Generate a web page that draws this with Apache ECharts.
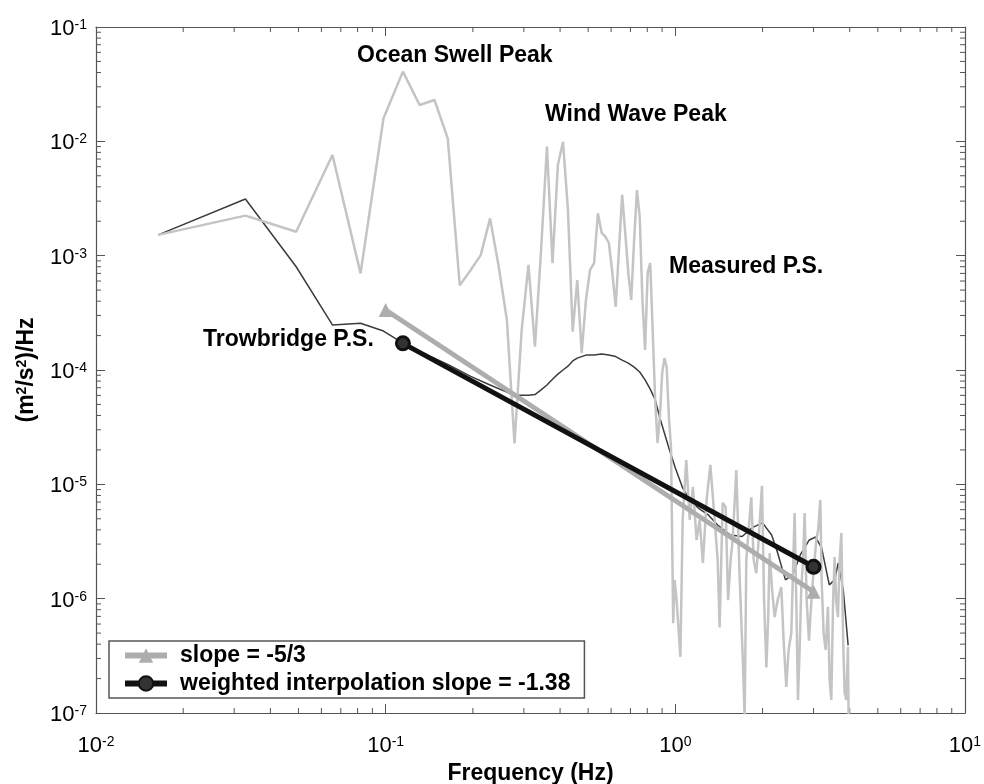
<!DOCTYPE html>
<html><head><meta charset="utf-8">
<script src="https://cdn.jsdelivr.net/npm/echarts@6/dist/echarts.min.js"></script>
<style>html,body{margin:0;padding:0;background:#fff}#c{width:984px;height:784px}</style>
</head><body><div id="c"></div>
<script>
// ---- data ----
const measFreq = [0.0164,0.0328,0.0491,0.0655,0.0819,0.0983,0.1147,0.1310,0.1474,0.1638,0.1802,0.1966,0.2129,0.2293,0.2457,0.2621,0.2785,0.2948,0.3112,0.3276,0.3440,0.3604,0.3767,0.3931,0.4095,0.4259,0.4423,0.4586,0.4750,0.4914,0.5078,0.5242,0.5405,0.5569,0.5733,0.5897,0.6060,0.6224,0.6388,0.6552,0.6716,0.6880,0.7043,0.7207,0.7371,0.7535,0.7698,0.7862,0.8026,0.8190,0.8353,0.8517,0.8681,0.8845,0.9008,0.9172,0.9336,0.9500,0.9663,
  0.983,0.994,1.010,1.041,1.060,1.091,1.121,1.150,1.184,1.213,1.245,1.282,1.321,1.367,1.400,1.422,1.457,1.492,1.521,1.552,1.577,1.624,1.667,1.712,1.735,1.758,1.791,1.829,1.864,1.904,1.939,1.991,2.025,2.062,2.091,2.116,2.159,2.202,2.255,2.322,2.365,2.416,2.461,2.514,2.581,2.623,2.650,2.686,2.722,2.761,2.795,2.840,2.893,2.931,2.985,3.026,3.067,3.111,3.166,3.199,3.250,3.303,3.364,3.409,3.455,3.505,3.548,3.590,3.642,3.692,3.742,3.796,3.841,3.893,3.943,3.965];
const measVal = [1.52e-3,2.24e-3,1.62e-3,7.6e-3,7.0e-4,1.59e-2,4.07e-2,2.08e-2,2.30e-2,1.06e-2,5.5e-4,7.5e-4,1.01e-3,2.12e-3,8.0e-4,2.74e-4,2.28e-5,2.24e-4,8.3e-4,1.6e-4,1.12e-3,9.0e-3,8.6e-4,6.2e-3,9.9e-3,2.5e-3,2.16e-4,6.1e-4,1.41e-4,4.1e-4,7.5e-4,8.6e-4,2.35e-3,1.58e-3,1.47e-3,1.29e-3,7.1e-4,3.57e-4,1.12e-3,3.4e-3,1.58e-3,7.1e-4,4.1e-4,1.37e-3,3.75e-3,2.19e-3,4.1e-4,1.5e-4,7.1e-4,8.6e-4,2.24e-4,5.5e-5,2.3e-5,3.9e-5,9.4e-5,1.27e-4,1.06e-4,3.9e-5,2.1e-5,
  6.1e-7,1.46e-6,9.7e-7,3.1e-7,4.9e-6,1.63e-5,4.9e-6,9.5e-6,3.26e-6,4.9e-6,2.05e-6,7.3e-6,1.48e-5,4.9e-6,2.18e-6,5.6e-7,6.9e-6,6.3e-6,9.7e-7,2.18e-6,3.26e-6,1.33e-5,1.55e-6,2.7e-7,9e-8,2.18e-6,4.0e-6,7.7e-6,2.18e-6,1.67e-6,3.26e-6,9.7e-6,9.7e-7,2.5e-7,6.5e-7,2.5e-6,1.19e-6,6.9e-7,9.7e-7,1.26e-6,4.3e-7,1.69e-7,3.56e-7,5.0e-7,5.6e-6,6.5e-7,1.3e-7,3.56e-7,1.26e-6,2.18e-6,5.6e-6,9.7e-7,4.3e-7,7.5e-7,1.46e-6,2.18e-6,3.26e-6,4.0e-6,7.3e-6,1.46e-6,5.0e-7,3.56e-7,8.5e-7,1.94e-7,1.3e-7,9.7e-7,2.31e-6,9.7e-7,6.9e-7,2.18e-6,3.75e-6,4.3e-7,1.5e-7,1.3e-7,3.8e-7,9e-8];

const trowFreq = [0.0164,0.0328,0.0491,0.0655,0.0819,0.0983,0.1147,0.1310,0.1638,0.1966,0.2293,0.2621,0.2785,0.2948,0.3112,0.3276,0.3440,0.3604,0.3767,0.3931,0.4095,0.4259,0.4423,0.4586,0.4914,0.5242,0.5569,0.5897,0.6224,0.6552,0.6880,0.7207,0.7535,0.7862,0.8190,0.8517,0.8845,0.9172,0.9500,1.0,1.06,1.12,1.2,1.3,1.4,1.55,1.7,1.85,2.0,2.15,2.25,2.4,2.55,2.7,2.9,3.05,3.2,3.4,3.55,3.65,3.8,3.95];
const trowVal = [1.52e-3,3.13e-3,8.0e-4,2.48e-4,2.56e-4,2.19e-4,1.72e-4,1.45e-4,1.12e-4,8.8e-5,7.4e-5,6.4e-5,6.0e-5,6.0e-5,6.0e-5,6.1e-5,6.7e-5,7.4e-5,8.3e-5,9.2e-5,1.0e-4,1.08e-4,1.2e-4,1.27e-4,1.35e-4,1.35e-4,1.38e-4,1.35e-4,1.31e-4,1.22e-4,1.15e-4,1.06e-4,9.6e-5,8.2e-5,6.8e-5,5.5e-5,3.8e-5,2.8e-5,2.08e-5,1.39e-5,9.3e-6,7.3e-6,6.2e-6,5.4e-6,4.4e-6,3.6e-6,3.5e-6,4.2e-6,4.6e-6,3.6e-6,2.56e-6,1.46e-6,1.64e-6,2.41e-6,3.26e-6,3.46e-6,2.77e-6,1.32e-6,1.46e-6,2.05e-6,1.19e-6,3.9e-7];

const slopeFreq = [0.1, 3.0];
const slopeVal = [3.35e-4, 1.15e-6];
const weightFreq = [0.1147, 3.0];
const weightVal = [1.71e-4, 1.9e-6];

const seriesNames = ['slope = -5/3', 'weighted interpolation slope = -1.38'];
const annotations = ['Ocean Swell Peak', 'Wind Wave Peak', 'Measured P.S.', 'Trowbridge P.S.'];
const xMajor = [0.01, 0.1, 1, 10];
const yMajor = [1e-7, 1e-6, 1e-5, 1e-4, 1e-3, 1e-2, 1e-1];
const minorMult = [2, 3, 4, 5, 6, 7, 8, 9];

// ---- helpers ----
const FONT = '"Liberation Sans", Arial, Helvetica, sans-serif';
const AX = '#555';
function pairs(f, v) { return f.map((x, i) => [x, v[i]]); }
function minorList(major) {
  const out = [];
  major.slice(0, -1).forEach(d => minorMult.forEach(m => out.push(+(m * d).toPrecision(3))));
  return out;
}
const xMinor = minorList(xMajor);
const yMinor = minorList(yMajor);
const X0 = xMajor[0], X1 = xMajor[xMajor.length - 1];
const Y0 = yMajor[0], Y1 = yMajor[yMajor.length - 1];

function powLabel(v) { const e = Math.round(Math.log10(v)); return '{b|10}{s|' + e + '}'; }
const rich = {
  b: { fontSize: 22, fontFamily: FONT, color: '#000', lineHeight: 22, padding: [8, 0, 0, 0], verticalAlign: 'bottom' },
  s: { fontSize: 14, fontFamily: FONT, color: '#000', lineHeight: 14, verticalAlign: 'top' }
};

function baseAxis(extra) {
  return Object.assign({
    type: 'log', logBase: 10,
    axisLine: { show: true, lineStyle: { color: AX, width: 1.2 } },
    axisTick: { show: true, inside: true, length: 9, lineStyle: { color: AX, width: 1 } },
    splitLine: { show: false },
    minorTick: { show: false }
  }, extra);
}

function minorTickSeries(vals, isX) {
  return {
    type: 'custom', silent: true, clip: false, z: 1,
    xAxisIndex: 0, yAxisIndex: 0,
    data: vals.map(v => isX ? [v, Y0] : [X0, v]),
    renderItem: function (params, api) {
      const v = api.value(isX ? 0 : 1);
      let a, b;
      if (isX) { a = api.coord([v, Y0]); b = api.coord([v, Y1]); }
      else { a = api.coord([X0, v]); b = api.coord([X1, v]); }
      const st = { stroke: AX, lineWidth: 1 };
      if (isX) return { type: 'group', children: [
        { type: 'line', shape: { x1: a[0], y1: a[1], x2: a[0], y2: a[1] - 5 }, style: st },
        { type: 'line', shape: { x1: b[0], y1: b[1], x2: b[0], y2: b[1] + 5 }, style: st } ] };
      return { type: 'group', children: [
        { type: 'line', shape: { x1: a[0], y1: a[1], x2: a[0] + 5, y2: a[1] }, style: st },
        { type: 'line', shape: { x1: b[0], y1: b[1], x2: b[0] - 5, y2: b[1] }, style: st } ] };
    }
  };
}

const chart = echarts.init(document.getElementById('c'), null, { renderer: 'canvas' });
const annoFont = 'bold 23px ' + FONT;
chart.setOption({
  animation: false,
  backgroundColor: '#fff',
  grid: { left: 96, right: 19, top: 27, bottom: 71, containLabel: false, outerBoundsMode: 'none' },
  xAxis: [
    baseAxis({ min: X0, max: X1, position: 'bottom', splitNumber: 3,
      axisLabel: { formatter: powLabel, rich: rich, margin: 22 },
      name: 'Frequency (Hz)', nameLocation: 'middle', nameGap: 49,
      nameTextStyle: { fontFamily: FONT, fontWeight: 'bold', fontSize: 23, color: '#000' } }),
    baseAxis({ min: X0, max: X1, position: 'top', splitNumber: 3, axisLabel: { show: false } })
  ],
  yAxis: [
    baseAxis({ min: Y0, max: Y1, position: 'left', splitNumber: 6,
      axisLabel: { formatter: powLabel, rich: rich, margin: 9, padding: [4, 0, 0, 0] },
      name: '{t|(m}{u|2}{t|/s}{u|2}{t|)/Hz}', nameLocation: 'middle', nameGap: 58, nameRotate: 90,
      nameTextStyle: { rich: {
        t: { fontFamily: FONT, fontWeight: 'bold', fontSize: 23, color: '#000', lineHeight: 23, padding: [6, 0, 0, 0], verticalAlign: 'bottom' },
        u: { fontFamily: FONT, fontWeight: 'bold', fontSize: 14, color: '#000', lineHeight: 14, verticalAlign: 'top' } } } }),
    baseAxis({ min: Y0, max: Y1, position: 'right', splitNumber: 6, axisLabel: { show: false } })
  ],
  legend: {
    data: seriesNames, orient: 'vertical', left: 109, top: 641,
    itemWidth: 42, itemHeight: 18, itemGap: 5,
    padding: [3, 14, 3, 13],
    lineStyle: { width: 6 },
    backgroundColor: '#fff', borderColor: AX, borderWidth: 1.5, borderRadius: 0,
    textStyle: { fontFamily: FONT, fontWeight: 'bold', fontSize: 23, color: '#000', lineHeight: 23, padding: [0, 0, 0, 8] }
  },
  series: [
    minorTickSeries(xMinor, true),
    minorTickSeries(yMinor, false),
    { name: 'Trowbridge P.S.', type: 'line', data: pairs(trowFreq, trowVal), showSymbol: false, symbol: 'none',
      lineStyle: { color: '#3c3c3c', width: 1.5 }, z: 3 },
    { name: 'Measured P.S.', type: 'line', data: pairs(measFreq, measVal), showSymbol: false, symbol: 'none',
      lineStyle: { color: '#c4c4c4', width: 2.5 }, z: 4 },
    { name: seriesNames[0], type: 'line', data: pairs(slopeFreq, slopeVal), symbol: 'triangle', symbolSize: 14,
      itemStyle: { color: '#adadad' }, lineStyle: { color: '#adadad', width: 5 }, z: 5 },
    { name: seriesNames[1], type: 'line', data: pairs(weightFreq, weightVal), symbol: 'circle', symbolSize: 13,
      itemStyle: { color: '#333', borderColor: '#111', borderWidth: 3 }, lineStyle: { color: '#111', width: 5 }, z: 6 }
  ],
  graphic: [
    { type: 'text', z: 10, style: { x: 357, y: 56, text: annotations[0], font: annoFont, fill: '#000', align: 'left', verticalAlign: 'middle' } },
    { type: 'text', z: 10, style: { x: 545, y: 115, text: annotations[1], font: annoFont, fill: '#000', align: 'left', verticalAlign: 'middle' } },
    { type: 'text', z: 10, style: { x: 669, y: 267, text: annotations[2], font: annoFont, fill: '#000', align: 'left', verticalAlign: 'middle' } },
    { type: 'text', z: 10, style: { x: 203, y: 340, text: annotations[3], font: annoFont, fill: '#000', align: 'left', verticalAlign: 'middle' } }
  ]
});
</script></body></html>
